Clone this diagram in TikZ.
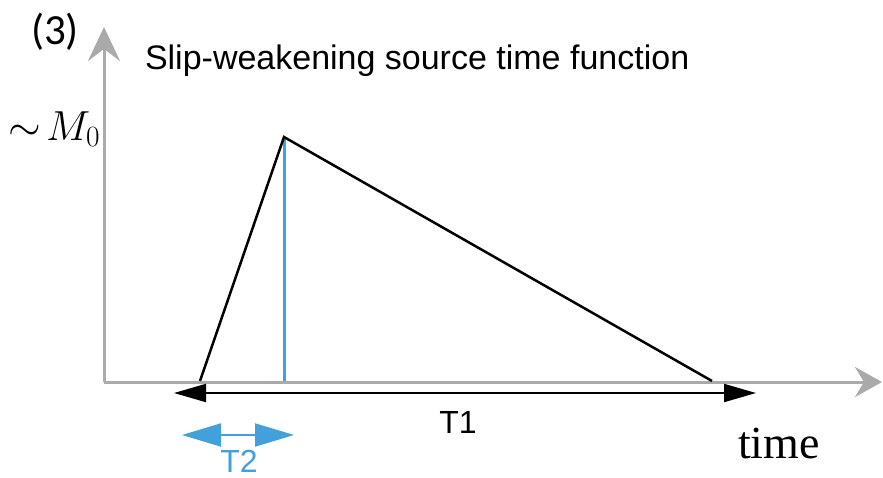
\RequirePackage{fix-cm}
\documentclass[tikz,border=0pt]{standalone}
\usepackage{fontspec}
\setsansfont{Liberation Sans}
\newfontfamily\calib{Carlito}
\newfontfamily\tserif{Liberation Serif}
\usetikzlibrary{arrows.meta}
\definecolor{axgray}{RGB}{170,170,170}
\definecolor{tblue}{RGB}{66,160,218}
\tikzset{
  axis/.style={draw=axgray, line width=3pt},
  curve/.style={draw=black, line width=2.5pt, line join=miter},
  span/.style={line width=2pt},
  lbl/.style={inner sep=0pt, outer sep=0pt},
}
\begin{document}
\begin{tikzpicture}[x=1pt,y=-1pt]
\useasboundingbox (0,0) rectangle (883,477);
% axes
\coordinate (O) at (104,382);
\coordinate (ytip) at (104,27);
\coordinate (xtip) at (882,382);
\draw[axis, -{Stealth[length=34pt,width=32pt,inset=12pt]}] (O) -- (ytip);
\draw[axis, -{Stealth[length=27pt,width=30pt,inset=9pt]}] (O) -- (xtip);
% source time function
\coordinate (s) at (200,381);
\coordinate (p) at (284,137);
\coordinate (e) at (712,381);
\coordinate (pb) at (284,381);
\draw[tblue, line width=3pt] (p) -- (pb);
\draw[curve] (s) -- (p) -- (e);
% T1
\coordinate (t1a) at (174,393);
\coordinate (t1b) at (756,393);
\draw[span, {Triangle[length=32pt,width=18pt]}-{Triangle[length=32pt,width=18pt]}] (t1a) -- (t1b);
% T2
\coordinate (t2a) at (182,435);
\coordinate (t2b) at (294,435);
\draw[span, tblue, {Triangle[length=39pt,width=23pt]}-{Triangle[length=39pt,width=23pt]}] (t2a) -- (t2b);
% labels
\node[lbl, anchor=base west, font=\sffamily\fontsize{34}{40}\selectfont] (title) at (145,69) {Slip-weakening source time function};
\node[lbl, anchor=base west, font=\calib\fontsize{43}{50}\selectfont] (num) at (31,44) {(3)};
\node[lbl, anchor=base east, font=\fontsize{42}{50}\selectfont] (m0) at (100,140) {$\sim\! M_0$};
\node[lbl, anchor=base, font=\sffamily\fontsize{32}{36}\selectfont] (T1) at (458,433) {T1};
\node[lbl, anchor=base, tblue, font=\sffamily\fontsize{32}{36}\selectfont] (T2) at (239,472) {T2};
\node[lbl, anchor=base west, font=\tserif\fontsize{46}{54}\selectfont] (time) at (738,458) {time};
\end{tikzpicture}
\end{document}
